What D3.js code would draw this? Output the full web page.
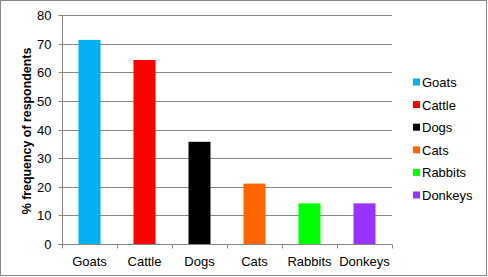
<!DOCTYPE html>
<html><head><meta charset="utf-8">
<script src="https://cdn.jsdelivr.net/npm/d3@7"></script>
<style>body{margin:0;background:#fff}svg{display:block}text{font-family:"Liberation Sans",Arial,sans-serif}</style>
</head><body><svg id="c" width="488" height="277"></svg>
<script>
const categories = ["Goats","Cattle","Dogs","Cats","Rabbits","Donkeys"];
const values = [71.3, 64.3, 35.7, 21.1, 14.2, 14.2];
const colors = ["#00B0F0","#FF0000","#000000","#FF6600","#00FF00","#9933FF"];
const yTicks = [0,10,20,30,40,50,60,70,80];
const yTitle = "% frequency of respondents";

const svg = d3.select("#c");
const L = 62, R = 392, T = 15, B = 244;
svg.append("rect").attr("x",0.5).attr("y",0.5).attr("width",486).attr("height",275)
  .attr("fill","#fff").attr("stroke","#868686");

const x = d3.scaleBand().domain(categories).range([L,R]).paddingInner(0.6).paddingOuter(0.3);
const y = d3.scaleLinear().domain([0,80]).range([B,T]);

// gridlines
svg.append("g").selectAll("line").data(yTicks.filter(d=>d>0)).join("line")
  .attr("x1",L).attr("x2",R).attr("y1",d=>Math.round(y(d))+0.5).attr("y2",d=>Math.round(y(d))+0.5)
  .attr("stroke","#868686");

// bars
svg.append("g").selectAll("rect").data(categories).join("rect")
  .attr("x",d=>x(d)).attr("width",x.bandwidth())
  .attr("y",(d,i)=>y(values[i])).attr("height",(d,i)=>B-y(values[i]))
  .attr("fill",(d,i)=>colors[i]);

// y axis
const ya = svg.append("g").attr("transform",`translate(${L+0.5},0)`)
  .call(d3.axisLeft(y).tickValues(yTicks).tickSize(4).tickPadding(7));
ya.selectAll("path,line").attr("stroke","#868686");
ya.select(".domain").attr("d",`M-4,${T+0.5}H0V${B+0.5}H-4`);
ya.selectAll("text").attr("font-size",13).attr("fill","#000").style("font-family","'Liberation Sans',Arial,sans-serif");
ya.selectAll(".tick").attr("transform",d=>`translate(0,${Math.round(y(d))+0.5})`);

// x axis
const xb = d3.scaleBand().domain(categories).range([L,R]);
const xa = svg.append("g").attr("transform",`translate(0,${B+0.5})`);
xa.append("line").attr("x1",L).attr("x2",R).attr("stroke","#868686");
xa.selectAll("line.t").data(d3.range(categories.length+1)).join("line").attr("class","t")
  .attr("x1",i=>Math.round(L+i*xb.step())+0.5).attr("x2",i=>Math.round(L+i*xb.step())+0.5)
  .attr("y1",0).attr("y2",4).attr("stroke","#868686");
xa.selectAll("text").data(categories).join("text")
  .attr("x",d=>xb(d)+xb.bandwidth()/2).attr("y",21).attr("text-anchor","middle")
  .attr("font-size",13).text(d=>d);

// y title
svg.append("text").attr("transform",`translate(31,131) rotate(-90)`).attr("text-anchor","middle")
  .attr("font-size",12.4).attr("font-weight","bold").text(yTitle);

// legend
const lg = svg.append("g").selectAll("g").data(categories).join("g")
  .attr("transform",(d,i)=>`translate(413,${82+i*22.6})`);
lg.append("rect").attr("x",0).attr("y",-3.5).attr("width",7).attr("height",7).attr("fill",(d,i)=>colors[i]);
lg.append("text").attr("x",9).attr("y",5).attr("font-size",13).text(d=>d);
</script></body></html>
